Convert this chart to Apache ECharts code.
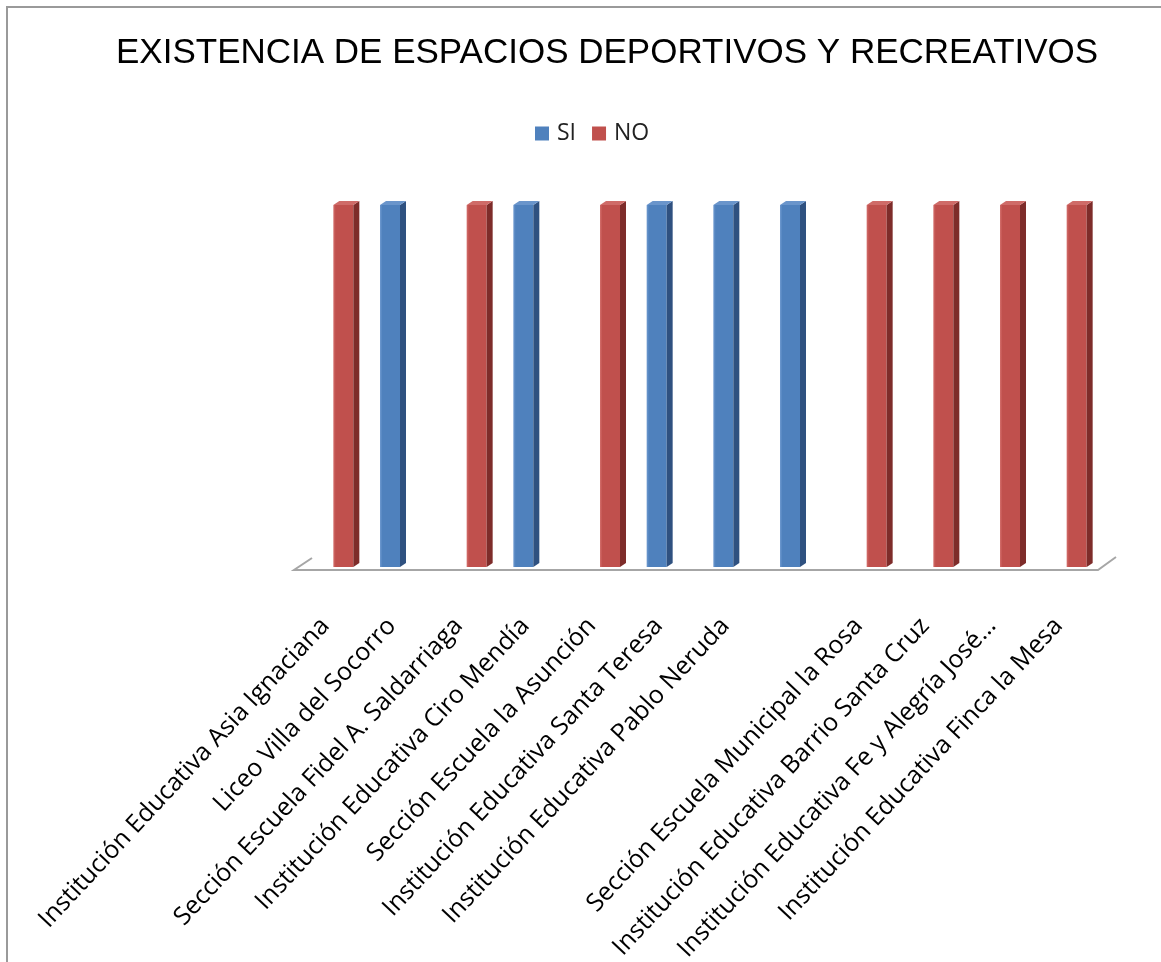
<!DOCTYPE html>
<html>
<head>
<meta charset="utf-8">
<script src="https://cdn.jsdelivr.net/npm/echarts@6/dist/echarts.min.js"></script>
<style>
html,body{margin:0;padding:0;background:#fff;}
#chart{width:1161px;height:962px;}
</style>
</head>
<body>
<div id="chart"></div>
<script>
const titleText = 'EXISTENCIA DE ESPACIOS DEPORTIVOS Y RECREATIVOS';
const categories = [
  'Institución Educativa Asia Ignaciana',
  'Liceo Villa del Socorro',
  'Sección Escuela Fidel A. Saldarriaga',
  'Institución Educativa Ciro Mendía',
  'Sección Escuela la Asunción',
  'Institución Educativa Santa Teresa',
  'Institución Educativa Pablo Neruda',
  '',
  'Sección Escuela Municipal la Rosa',
  'Institución Educativa Barrio Santa Cruz',
  'Institución Educativa Fe y Alegría José…',
  'Institución Educativa Finca la Mesa'
];
const seriesNames = ['SI', 'NO'];
const siValues = [0, 1, 0, 1, 0, 1, 1, 1, 0, 0, 0, 0];
const noValues = [1, 0, 1, 0, 1, 0, 0, 0, 1, 1, 1, 1];

const palette = {
  SI: {front: '#4F81BD', side: '#2F5180', top: '#6A95CB', edge: '#6F9AD0'},
  NO: {front: '#C0504D', side: '#7E2C2A', top: '#CF6B68', edge: '#D46F6C'}
};

function make3D(sign, pal) {
  return function (params, api) {
    const v = api.value(1);
    if (!v) return null;
    const base = api.coord([api.value(0), 0]);
    const topP = api.coord([api.value(0), v]);
    const bw = api.size([1, 0])[0] * 0.3;
    const d = bw * 0.3;
    const dy = d * 0.65;
    const x0 = sign < 0 ? base[0] - bw : base[0];
    const x1 = x0 + bw;
    const yt = topP[1], yb = base[1];
    return {
      type: 'group',
      children: [
        {type: 'rect', shape: {x: x0, y: yt, width: bw, height: yb - yt},
         style: {fill: {type: 'linear', x: 0, y: 0, x2: 1, y2: 0, colorStops: [
           {offset: 0, color: pal.edge}, {offset: 0.12, color: pal.front}, {offset: 1, color: pal.front}]}}},
        {type: 'polygon', shape: {points: [[x1, yt], [x1 + d, yt - dy], [x1 + d, yb - dy], [x1, yb]]},
         style: {fill: pal.side}},
        {type: 'polygon', shape: {points: [[x0, yt], [x0 + d, yt - dy], [x1 + d, yt - dy], [x1, yt]]},
         style: {fill: pal.top}}
      ]
    };
  };
}

const chart = echarts.init(document.getElementById('chart'));
chart.setOption({
  backgroundColor: '#ffffff',
  animation: false,
  title: {
    text: titleText,
    left: 111, top: 31,
    textStyle: {fontFamily: 'Liberation Sans', fontSize: 35, fontWeight: 'normal', color: '#000'}
  },
  legend: {
    data: seriesNames,
    left: 530, top: 117,
    icon: 'rect', itemWidth: 14, itemHeight: 14, itemGap: 16,
    textStyle: {fontFamily: 'Open Sans', fontSize: 23, color: '#222', padding: [0, 0, 0, 3]}
  },
  grid: {left: 300, right: 61, top: 205, bottom: 395, containLabel: false, outerBoundsMode: 'none'},
  xAxis: {
    type: 'category',
    data: categories,
    axisLine: {show: false},
    axisTick: {show: false},
    axisLabel: {
      interval: 0, rotate: 47, margin: 46, padding: [0, 12, 0, 0],
      fontFamily: 'Open Sans', fontSize: 25, color: '#000'
    }
  },
  yAxis: {
    type: 'value', min: 0, max: 1, show: false,
    splitLine: {show: false}
  },
  graphic: [
    {type: 'rect', shape: {x: 7, y: 7, width: 1300, height: 1100},
     style: {fill: 'none', stroke: '#9a9a9a', lineWidth: 2}, z: 100},
    {type: 'polyline', shape: {points: [[312, 558], [294, 570], [1098, 570], [1116, 557]]},
     style: {stroke: '#a6a6a6', lineWidth: 2, fill: 'none'}, z: -1}
  ],
  series: [
    {
      name: 'SI', type: 'custom',
      itemStyle: {color: palette.SI.front},
      encode: {x: 0, y: 1},
      data: categories.map((c, i) => [i, siValues[i]]),
      renderItem: make3D(-1, palette.SI)
    },
    {
      name: 'NO', type: 'custom',
      itemStyle: {color: palette.NO.front},
      encode: {x: 0, y: 1},
      data: categories.map((c, i) => [i, noValues[i]]),
      renderItem: make3D(1, palette.NO)
    }
  ]
});
</script>
</body>
</html>
